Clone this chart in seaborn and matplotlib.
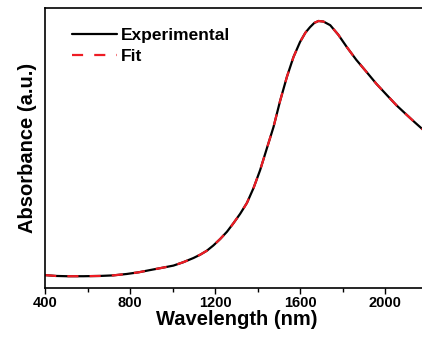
import matplotlib
matplotlib.use("Agg")
import matplotlib.pyplot as plt
from matplotlib.ticker import MultipleLocator
import seaborn as sns
import pandas as pd

# values (arbitrary absorbance units)
wavelength = [400, 450, 502, 580, 659, 720, 784, 840, 894, 950, 1004, 1050, 1098, 1130,
              1161, 1192, 1224, 1256, 1287, 1318, 1350, 1381, 1412, 1443, 1475, 1506,
              1538, 1569, 1600, 1625, 1647, 1667, 1687, 1710, 1742, 1780, 1820, 1865,
              1914, 1960, 2009, 2055, 2103, 2140, 2180]
experimental = [0.046, 0.043, 0.042, 0.042, 0.043, 0.045, 0.050, 0.056, 0.064, 0.072,
                0.080, 0.092, 0.107, 0.119, 0.133, 0.152, 0.175, 0.201, 0.232, 0.265,
                0.304, 0.357, 0.421, 0.497, 0.575, 0.668, 0.754, 0.825, 0.879, 0.912,
                0.932, 0.947, 0.954, 0.952, 0.939, 0.905, 0.861, 0.815, 0.771, 0.729,
                0.689, 0.652, 0.618, 0.592, 0.565]
fit = [0.046, 0.043, 0.042, 0.042, 0.043, 0.045, 0.050, 0.056, 0.064, 0.072,
       0.080, 0.092, 0.107, 0.119, 0.133, 0.152, 0.175, 0.201, 0.232, 0.265,
       0.304, 0.357, 0.421, 0.497, 0.575, 0.668, 0.754, 0.825, 0.879, 0.912,
       0.932, 0.947, 0.954, 0.952, 0.939, 0.905, 0.861, 0.815, 0.771, 0.729,
       0.689, 0.652, 0.618, 0.592, 0.565]

df = pd.DataFrame({"Wavelength": wavelength, "Experimental": experimental, "Fit": fit})

sns.set_style("ticks")
plt.rcParams['font.family'] = ['Liberation Sans', 'DejaVu Sans']
plt.rcParams['font.weight'] = 'bold'
plt.rcParams['text.color'] = 'black'
plt.rcParams['axes.labelcolor'] = 'black'
plt.rcParams['axes.edgecolor'] = 'black'
plt.rcParams['xtick.color'] = 'black'

fig = plt.figure(figsize=(4.22, 3.38), dpi=100)
ax = fig.add_axes([0.107, 0.148, 0.906, 0.828])

sns.lineplot(data=df, x="Wavelength", y="Experimental", ax=ax, color="black",
             linewidth=1.6, label="Experimental")
sns.lineplot(data=df, x="Wavelength", y="Fit", ax=ax, color="#ee1c24",
             linewidth=1.6, dashes=(5, 5), label="Fit")

ax.set_xlim(400, 2200)
ax.set_ylim(0, 1)
ax.xaxis.set_major_locator(MultipleLocator(400))
ax.xaxis.set_minor_locator(MultipleLocator(200))
ax.set_yticks([])
ax.tick_params(axis='x', which='major', length=4, width=1, labelsize=10.5, pad=2)
ax.tick_params(axis='x', which='minor', length=3, width=1)
for lab in ax.get_xticklabels():
    lab.set_fontweight('bold')
for sp in ax.spines.values():
    sp.set_linewidth(1.2)
    sp.set_visible(True)

ax.set_xlabel("Wavelength (nm)", fontsize=14.5, fontweight='bold', labelpad=0)
ax.set_ylabel("Absorbance (a.u.)", fontsize=14.5, fontweight='bold', labelpad=6)

leg = ax.legend(loc='upper left', bbox_to_anchor=(0.052, 0.955), frameon=False,
                fontsize=12.5, handlelength=2.6, handletextpad=0.2, labelspacing=0.35,
                borderaxespad=0)
for t in leg.get_texts():
    t.set_fontweight('bold')

fig.savefig("out.png", dpi=100)
